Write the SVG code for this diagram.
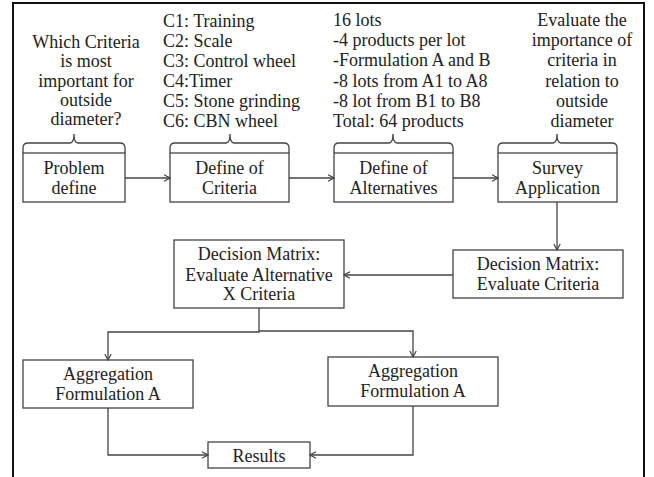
<svg xmlns="http://www.w3.org/2000/svg" width="654" height="477" viewBox="0 0 654 477">
<style>
text{font-family:"Liberation Serif","Times New Roman",serif;font-size:18px;fill:#222}
.c{text-anchor:middle}
.box{fill:#fff;stroke:#444;stroke-width:1.3}
.br{fill:none;stroke:#444;stroke-width:1.3}
.cn path{fill:none;stroke:#444;stroke-width:1.3}
</style>
<defs>
<marker id="a" markerWidth="8" markerHeight="8" refX="7" refY="4" orient="auto" markerUnits="userSpaceOnUse">
<path d="M1,0.8 L7,4 L1,7.2" fill="none" stroke="#444" stroke-width="1.2"/>
</marker>
</defs>
<rect width="654" height="477" fill="#fff"/>
<path d="M13,477 V3 H644 V477" fill="none" stroke="#111" stroke-width="2"/>

<g id="notes">
<text class="c"><tspan x="86" y="48">Which Criteria</tspan><tspan x="86" y="67.3">is most</tspan><tspan x="86" y="86.5">important for</tspan><tspan x="86" y="105.8">outside</tspan><tspan x="86" y="125">diameter?</tspan></text>
<text><tspan x="163" y="27">C1: Training</tspan><tspan x="163" y="47">C2: Scale</tspan><tspan x="163" y="67">C3: Control wheel</tspan><tspan x="163" y="87">C4:Timer</tspan><tspan x="163" y="107">C5: Stone grinding</tspan><tspan x="163" y="127">C6: CBN wheel</tspan></text>
<text><tspan x="333" y="26">16 lots</tspan><tspan x="333" y="46.2">-4 products per lot</tspan><tspan x="333" y="66.4">-Formulation A and B</tspan><tspan x="333" y="86.6">-8 lots from A1 to A8</tspan><tspan x="333" y="106.8">-8 lot from B1 to B8</tspan><tspan x="333" y="127">Total: 64 products</tspan></text>
<text class="c"><tspan x="582" y="26">Evaluate the</tspan><tspan x="582" y="46.2">importance of</tspan><tspan x="582" y="66.4">criteria in</tspan><tspan x="582" y="86.6">relation to</tspan><tspan x="582" y="106.8">outside</tspan><tspan x="582" y="127">diameter</tspan></text>
</g>

<g id="problem">
<path class="br" d="M23,153 V148 Q23,143 28,143 H70 Q74,143 74,134 Q74,143 78,143 H120 Q125,143 125,148 V153"/>
<rect class="box" x="23" y="153" width="102" height="49"/>
<text class="c"><tspan x="74" y="174">Problem</tspan><tspan x="74" y="193.5">define</tspan></text>
</g>
<g id="criteria">
<path class="br" d="M170,153 V148 Q170,143 175,143 H226 Q230,143 230,134 Q230,143 234,143 H284 Q289,143 289,148 V153"/>
<rect class="box" x="170" y="153" width="119" height="49"/>
<text class="c"><tspan x="229.5" y="174">Define of</tspan><tspan x="229.5" y="193.5">Criteria</tspan></text>
</g>
<g id="alternatives">
<path class="br" d="M334,153 V148 Q334,143 339,143 H389 Q393,143 393,134 Q393,143 397,143 H448 Q453,143 453,148 V153"/>
<rect class="box" x="334" y="153" width="119" height="49"/>
<text class="c"><tspan x="393.5" y="174">Define of</tspan><tspan x="393.5" y="193.5">Alternatives</tspan></text>
</g>
<g id="survey">
<path class="br" d="M498,153 V148 Q498,143 503,143 H553 Q557,143 557,134 Q557,143 561,143 H612 Q617,143 617,148 V153"/>
<rect class="box" x="498" y="153" width="119" height="49"/>
<text class="c"><tspan x="557.5" y="174">Survey</tspan><tspan x="557.5" y="193.5">Application</tspan></text>
</g>
<g id="dm-criteria">
<rect class="box" x="453" y="250" width="170" height="48"/>
<text class="c"><tspan x="538" y="270">Decision Matrix:</tspan><tspan x="538" y="290">Evaluate Criteria</tspan></text>
</g>
<g id="dm-alternative">
<rect class="box" x="174" y="240" width="170" height="68"/>
<text class="c"><tspan x="259" y="260">Decision Matrix:</tspan><tspan x="259" y="280.5">Evaluate Alternative</tspan><tspan x="259" y="300">X Criteria</tspan></text>
</g>
<g id="agg-left">
<rect class="box" x="23" y="360" width="170" height="48"/>
<text class="c"><tspan x="108" y="380">Aggregation</tspan><tspan x="108" y="400">Formulation A</tspan></text>
</g>
<g id="agg-right">
<rect class="box" x="328" y="357" width="170" height="49"/>
<text class="c"><tspan x="413" y="377">Aggregation</tspan><tspan x="413" y="397">Formulation A</tspan></text>
</g>
<g id="results">
<rect class="box" x="208" y="442" width="102" height="26"/>
<text class="c" x="259" y="462">Results</text>
</g>

<g id="connectors" class="cn">
<path d="M125,178 H170" marker-end="url(#a)"/>
<path d="M289,178 H334" marker-end="url(#a)"/>
<path d="M453,178 H498" marker-end="url(#a)"/>
<path d="M557,202 V250" marker-end="url(#a)"/>
<path d="M453,275 H344" marker-end="url(#a)"/>
<path d="M259,308 V332 H108 V360" marker-end="url(#a)"/>
<path d="M259,331 H413 V357" marker-end="url(#a)"/>
<path d="M108,408 V455 H208" marker-end="url(#a)"/>
<path d="M413,406 V455 H310" marker-end="url(#a)"/>
</g>
</svg>
